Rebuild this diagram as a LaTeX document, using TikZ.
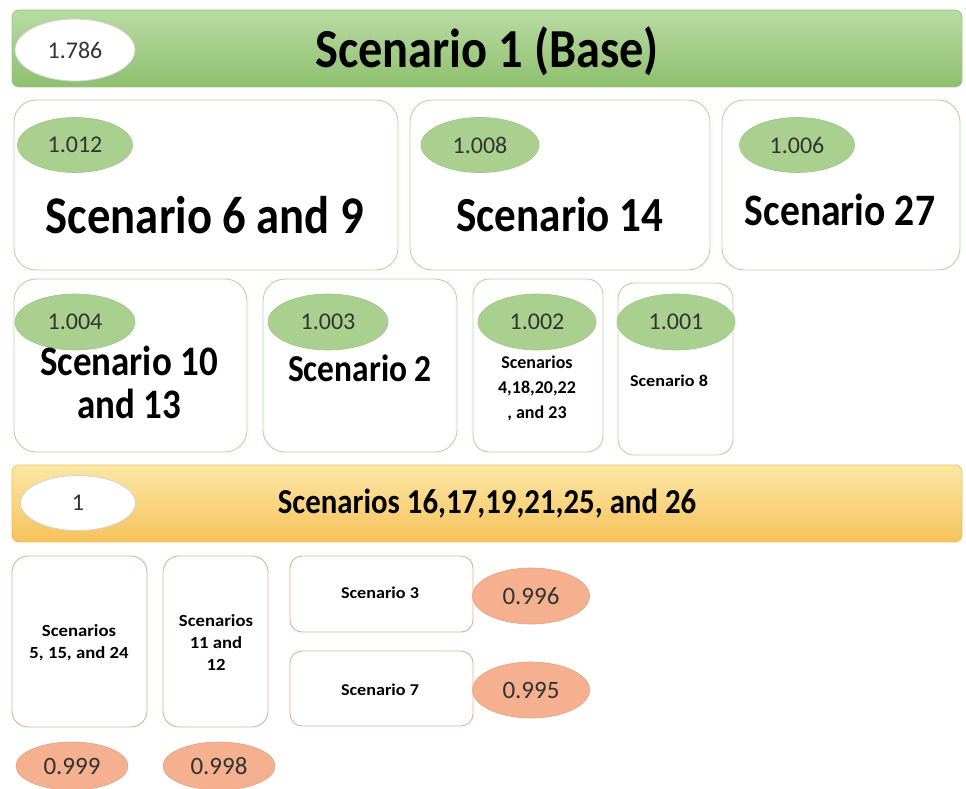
\documentclass[tikz,border=0pt]{standalone}
\usepackage{fontspec}
\setmainfont{Carlito}
\newfontfamily\condfont[FakeStretch=0.88]{Carlito}
\newfontfamily\widefont[FakeStretch=1.1]{Carlito}
\usetikzlibrary{shapes.geometric}

\definecolor{grnfill}{HTML}{A9D08E}
\definecolor{grnedge}{HTML}{9CC583}
\definecolor{grnline}{HTML}{B5D6A0}
\definecolor{barTopG}{HTML}{B9DBA4}
\definecolor{barBotG}{HTML}{8EBF6E}
\definecolor{barTopY}{HTML}{FCE7A6}
\definecolor{barBotY}{HTML}{F6C25C}
\definecolor{yedge}{HTML}{F0C060}
\definecolor{orfill}{HTML}{F4B08F}
\definecolor{oredge}{HTML}{E9A07E}
\definecolor{orline}{HTML}{DDB295}
\definecolor{numtext}{HTML}{333333}

% size and baseline skip in pt
\newcommand{\fs}[2]{\fontsize{#1}{#2}\selectfont}

\tikzset{
  bar/.style={draw, rounded corners=7pt, line width=0.8pt, shading=axis, shading angle=0},
  greenbar/.style={bar, draw=grnedge, top color=barTopG, bottom color=barBotG},
  yellowbar/.style={bar, draw=yedge, top color=barTopY, bottom color=barBotY},
  gbox/.style={draw=grnline, fill=white, rounded corners=22pt, line width=0.9pt},
  obox/.style={draw=orline, fill=white, rounded corners=16pt, line width=0.9pt},
  whiteoval/.style={ellipse, draw=gray!35, fill=white, line width=0.8pt, inner sep=0pt, text=numtext, font=\fs{24}{28}},
  greenoval/.style={ellipse, draw=grnedge, fill=grnfill, line width=0.6pt, inner sep=0pt, text=numtext, font=\fs{24}{28}},
  orangeoval/.style={ellipse, draw=oredge, fill=orfill, line width=0.6pt, inner sep=0pt, text=numtext, font=\fs{25}{29}},
  title/.style={text=black, align=center, inner sep=0pt},
}

\begin{document}
\begin{tikzpicture}[x=1pt, y=-1pt]
\useasboundingbox (0,0) rectangle (966,789);

% base scenario bar
\node[greenbar, minimum width=950pt, minimum height=77pt] (base) at (487,48.5) {};
\node[whiteoval, minimum width=120pt, minimum height=62pt] (vbase) at (75,50) {1.786};
\node[title, font=\condfont\bfseries\fs{55}{60}] (tbase) at (487,51) {Scenario 1 (Base)};

% second row
\node[gbox, minimum width=384pt, minimum height=170pt] (b69) at (206,185) {};
\node[gbox, minimum width=300pt, minimum height=170pt] (b14) at (560,185) {};
\node[gbox, minimum width=238pt, minimum height=170pt] (b27) at (841,185) {};
\node[greenoval, minimum width=115pt, minimum height=55pt] (v69) at (75,145) {1.012};
\node[greenoval, minimum width=118pt, minimum height=55pt] (v14) at (480,145) {1.008};
\node[greenoval, minimum width=115pt, minimum height=55pt] (v27) at (797,145) {1.006};
\node[title, font=\condfont\bfseries\fs{53}{58}] (t69) at (205,215) {Scenario 6 and 9};
\node[title, font=\condfont\bfseries\fs{49}{54}] (t14) at (560,214) {Scenario 14};
\node[title, font=\condfont\bfseries\fs{45}{50}] (t27) at (840,210) {Scenario 27};

% third row
\node[gbox, minimum width=233pt, minimum height=173pt] (b1013) at (130.5,365.5) {};
\node[gbox, minimum width=194pt, minimum height=173pt] (b2) at (360,365.5) {};
\node[gbox, minimum width=130pt, minimum height=173pt, rounded corners=16pt] (b4) at (538,365.5) {};
\node[gbox, minimum width=115pt, minimum height=172pt, rounded corners=16pt] (b8) at (675.5,369) {};
\node[greenoval, minimum width=120pt, minimum height=56pt] (v1013) at (75,322) {1.004};
\node[greenoval, minimum width=120pt, minimum height=56pt] (v2) at (328,322) {1.003};
\node[greenoval, minimum width=118pt, minimum height=56pt] (v4) at (537,322) {1.002};
\node[greenoval, minimum width=118pt, minimum height=56pt] (v8) at (676,322) {1.001};
\node[title, font=\condfont\bfseries\fs{42}{43}] (t1013) at (129,382) {Scenario 10\\and 13};
\node[title, font=\condfont\bfseries\fs{38}{42}] (t2) at (360,368) {Scenario 2};
\node[title, font=\bfseries\fs{18}{25}] (t4) at (537,388) {Scenarios\\4,18,20,22\\, and 23};
\node[title, font=\widefont\bfseries\fs{16.5}{20}] (t8) at (669,381) {Scenario 8};

% neutral scenarios bar
\node[yellowbar, minimum width=950pt, minimum height=77pt] (mid) at (487,503.5) {};
\node[whiteoval, minimum width=115pt, minimum height=55pt] (vmid) at (78,503) {1};
\node[title, font=\condfont\bfseries\fs{35}{40}] (tmid) at (487,504) {Scenarios 16,17,19,21,25, and 26};

% bottom group
\node[obox, minimum width=135pt, minimum height=171pt] (b5) at (79.5,641.5) {};
\node[obox, minimum width=105pt, minimum height=171pt] (b11) at (215.5,641.5) {};
\node[obox, minimum width=183pt, minimum height=76pt, rounded corners=12pt] (b3) at (381.5,594) {};
\node[obox, minimum width=183pt, minimum height=75pt, rounded corners=12pt] (b7) at (381.5,688.5) {};
\node[title, font=\widefont\bfseries\fs{17}{22}] (t5) at (79,643) {Scenarios\\5, 15, and 24};
\node[title, font=\widefont\bfseries\fs{17}{22}] (t11) at (216,643) {Scenarios\\11 and\\12};
\node[title, font=\widefont\bfseries\fs{16.5}{20}] (t3) at (380,593) {Scenario 3};
\node[title, font=\widefont\bfseries\fs{16.5}{20}] (t7) at (380,690) {Scenario 7};
\node[orangeoval, minimum width=112pt, minimum height=48pt] (v5) at (72,766) {0.999};
\node[orangeoval, minimum width=112pt, minimum height=48pt] (v11) at (219,766) {0.998};
\node[orangeoval, minimum width=117pt, minimum height=56pt] (v3) at (531,596) {0.996};
\node[orangeoval, minimum width=117pt, minimum height=56pt] (v7) at (531,690) {0.995};
\end{tikzpicture}
\end{document}
